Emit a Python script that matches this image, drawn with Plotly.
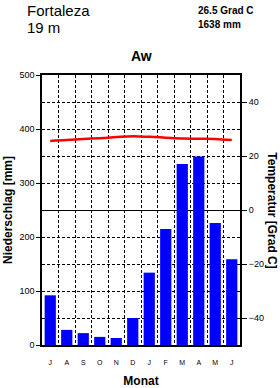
import plotly.graph_objects as go

months = ["J", "A", "S", "O", "N", "D", "J", "F", "M", "A", "M", "J"]
precip_mm = [92, 28, 22, 15, 13, 50, 134, 215, 335, 349, 226, 159]
temp_c = [25.6, 25.9, 26.3, 26.6, 27.0, 27.3, 27.1, 26.8, 26.5, 26.4, 26.3, 25.9]
station = "Fortaleza"
elevation = "19 m"
mean_temp_text = "26.5 Grad C"
total_precip_text = "1638 mm"
climate = "Aw"

xpos = [i + 0.5 for i in range(len(months))]
FONT = "Liberation Sans, Arial, sans-serif"
DASH = "3px,2px"

fig = go.Figure()
fig.add_trace(go.Bar(x=xpos, y=precip_mm, marker=dict(color="#0000FF", line=dict(width=0)),
                     width=0.68, yaxis="y", showlegend=False))
fig.add_trace(go.Scatter(x=xpos, y=temp_c, mode="lines", line=dict(color="#FF0000", width=2.5, shape="spline"),
                         yaxis="y2", showlegend=False))

fig.update_layout(
    width=280, height=388,
    margin=dict(l=42, r=40, t=75, b=43),
    paper_bgcolor="white", plot_bgcolor="white",
    font=dict(family=FONT, color="black"),
    xaxis=dict(range=[0, 12], tickmode="array", tickvals=xpos, ticktext=months, automargin=False,
               tickfont=dict(size=7, family=FONT), showgrid=False, zeroline=False,
               showline=True, linecolor="black", linewidth=1.5, mirror=True, ticks="",
               ticklabelstandoff=10,
               minor=dict(tickmode="linear", tick0=0, dtick=1, showgrid=True,
                          gridcolor="black", griddash=DASH, gridwidth=1, ticks=""),
               title=dict(text="<b>Monat</b>", font=dict(size=12, family=FONT), standoff=14)),
    yaxis=dict(range=[0, 500], tickmode="linear", tick0=0, dtick=100, showgrid=True, automargin=False,
               gridcolor="black", griddash=DASH, gridwidth=1, zeroline=False,
               ticks="outside", ticklen=4, tickcolor="black", tickfont=dict(size=9, family=FONT),
               showline=True, linecolor="black", linewidth=1.5, mirror=True,
               minor=dict(tickmode="linear", tick0=0, dtick=50, showgrid=True, gridcolor="black",
                          griddash=DASH, gridwidth=1),
               title=dict(text="<b>Niederschlag [mm]</b>", font=dict(size=12, family=FONT), standoff=4)),
    yaxis2=dict(range=[-50, 50], overlaying="y", side="right", tickmode="array", automargin=False,
                tickvals=[-40, -20, 0, 20, 40], showgrid=False, zeroline=True,
                zerolinecolor="black", zerolinewidth=1.2,
                ticks="outside", ticklen=6, tickcolor="black", tickfont=dict(size=9, family=FONT)),
    bargap=0.3,
)

fig.add_annotation(text="<b>Temperatur [Grad C]</b>", xref="paper", yref="y2", x=1.16, y=0,
                   xanchor="center", yanchor="middle", textangle=90, showarrow=False,
                   font=dict(size=12, family=FONT))
fig.add_annotation(text=station, xref="paper", yref="paper", x=-0.085, y=1.24, xanchor="left", yanchor="middle",
                   showarrow=False, font=dict(size=15, family=FONT))
fig.add_annotation(text=elevation, xref="paper", yref="paper", x=-0.085, y=1.175, xanchor="left", yanchor="middle",
                   showarrow=False, font=dict(size=15, family=FONT))
fig.add_annotation(text="<b>" + mean_temp_text + "</b>", xref="paper", yref="paper", x=0.78, y=1.24,
                   xanchor="left", yanchor="middle", showarrow=False, font=dict(size=10, family=FONT))
fig.add_annotation(text="<b>" + total_precip_text + "</b>", xref="paper", yref="paper", x=0.78, y=1.187,
                   xanchor="left", yanchor="middle", showarrow=False, font=dict(size=10, family=FONT))
fig.add_annotation(text="<b>" + climate + "</b>", xref="paper", yref="paper", x=0.5, y=1.07,
                   xanchor="center", yanchor="middle", showarrow=False, font=dict(size=14, family=FONT))

fig.write_html("out.html")
